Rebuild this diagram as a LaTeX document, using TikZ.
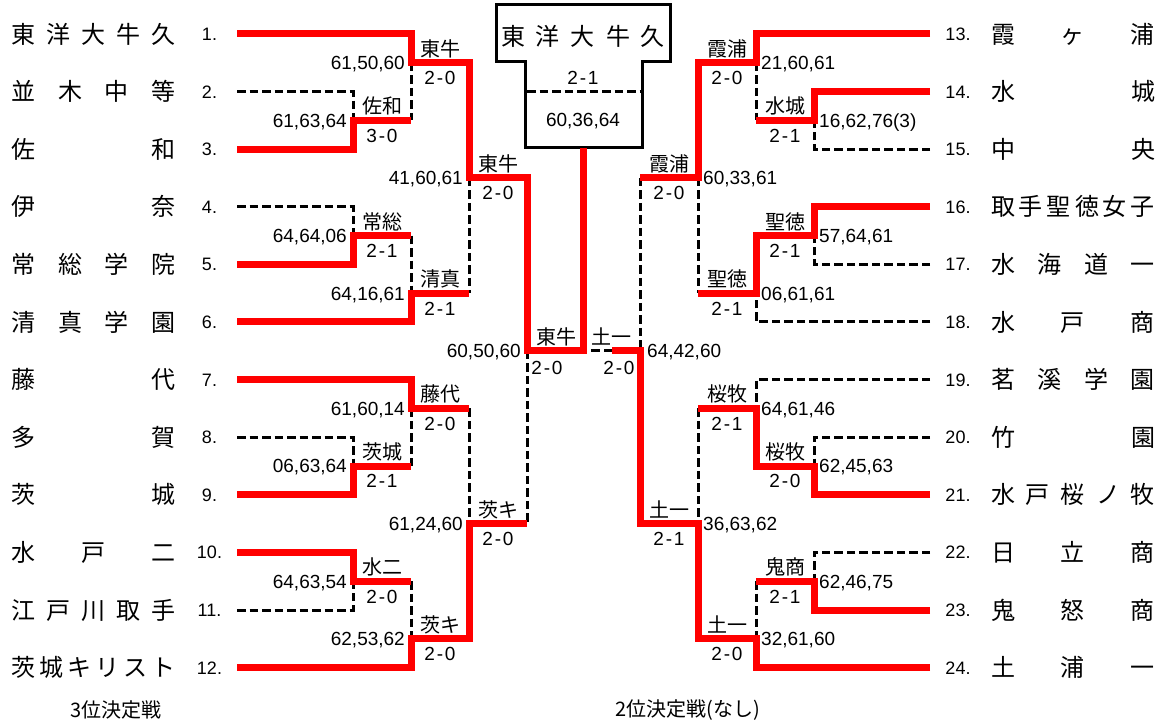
\documentclass[tikz,border=0pt]{standalone}
\usepackage{fontspec}
\setmainfont{Liberation Sans}
\newfontfamily\jp{Noto Sans CJK JP}
\newcommand{\scorepair}[2]{#1\kern1.8pt-\kern1.8pt#2}

\begin{document}
\begin{tikzpicture}[x=1pt,y=-1pt]

\tikzstyle{winline}=[draw=red, line width=7pt, line join=miter]
\tikzstyle{loseline}=[draw, line width=3pt, dash pattern=on 8.5pt off 4pt]
\tikzstyle{champbox}=[draw, line width=3pt, line join=miter]
\tikzstyle{team}=[inner sep=0pt, font=\jp\fontsize{24}{24}\selectfont]
\tikzstyle{seed}=[inner sep=0pt, text height=13pt, text depth=0pt, font=\fontsize{18}{18}\selectfont]
\tikzstyle{scoretext}=[inner sep=0pt, text height=13.7pt, text depth=0pt, font=\fontsize{19}{19}\selectfont]
\tikzstyle{winner}=[inner sep=0pt, font=\jp\fontsize{20}{20}\selectfont]
\tikzstyle{caption}=[inner sep=0pt, font=\jp\fontsize{20}{20}\selectfont]
\tikzstyle{lname}=[winner, xshift=29pt, yshift=14pt]
\tikzstyle{lscore}=[scoretext, xshift=29pt, yshift=-15pt]
\tikzstyle{lsets}=[scoretext, anchor=east, xshift=-6pt]
\tikzstyle{rname}=[winner, xshift=-29pt, yshift=14pt]
\tikzstyle{rscore}=[scoretext, xshift=-29pt, yshift=-15pt]
\tikzstyle{rsets}=[scoretext, anchor=west, xshift=5pt]

\path[fill=white, use as bounding box] (0,0) rectangle (1163,722);

% line ends and seed numbers
\foreach \i in {1,...,12} {
  \coordinate (L\i) at (237,{34+57.6*(\i-1)});
  \node[seed] (n\i) at (209.5,{34+57.6*(\i-1)}) {\i.};
}
\foreach \i in {13,...,24} {
  \coordinate (R\i) at (930,{34+57.6*(\i-13)});
  \node[seed] (n\i) at (958,{34+57.6*(\i-13)}) {\i.};
}

% left half
\coordinate (a1) at (411,62.8);
\coordinate (a23) at (353,120.4);
\coordinate (qa) at (469,178);
\coordinate (a45) at (353,235.6);
\coordinate (a6) at (411,293.2);
\coordinate (sl) at (527,350.8);
\coordinate (a7) at (411,408.4);
\coordinate (a89) at (353,466);
\coordinate (qb) at (469,523.6);
\coordinate (a1011) at (353,581.2);
\coordinate (a12) at (411,638.8);

% right half
\coordinate (b13) at (756,62.8);
\coordinate (b1415) at (814,120.4);
\coordinate (qc) at (698,178);
\coordinate (b1617) at (814,235.6);
\coordinate (b18) at (756,293.2);
\coordinate (sr) at (640,350.8);
\coordinate (b19) at (756,408.4);
\coordinate (b2021) at (814,466);
\coordinate (qd) at (698,523.6);
\coordinate (b2223) at (814,581.2);
\coordinate (b24) at (756,638.8);

% final
\coordinate (fin) at (583,350.8);
\coordinate (fr) at (612,350.8);
\coordinate (champ) at (583,148);

% team names
\node[team] (t1) at (93.5,34) {\makebox[164pt][s]{東 洋 大 牛 久}};
\node[team] (t2) at (93.5,91.6) {\makebox[164pt][s]{並 木 中 等}};
\node[team] (t3) at (93.5,149.2) {\makebox[164pt][s]{佐 和}};
\node[team] (t4) at (93.5,206.8) {\makebox[164pt][s]{伊 奈}};
\node[team] (t5) at (93.5,264.4) {\makebox[164pt][s]{常 総 学 院}};
\node[team] (t6) at (93.5,322) {\makebox[164pt][s]{清 真 学 園}};
\node[team] (t7) at (93.5,379.6) {\makebox[164pt][s]{藤 代}};
\node[team] (t8) at (93.5,437.2) {\makebox[164pt][s]{多 賀}};
\node[team] (t9) at (93.5,494.8) {\makebox[164pt][s]{茨 城}};
\node[team] (t10) at (93.5,552.4) {\makebox[164pt][s]{水 戸 二}};
\node[team] (t11) at (93.5,610) {\makebox[164pt][s]{江 戸 川 取 手}};
\node[team] (t12) at (93.5,667.6) {\makebox[164pt][s]{茨 城 キ リ ス ト}};
\node[team] (t13) at (1073,34) {\makebox[164pt][s]{霞 ヶ 浦}};
\node[team] (t14) at (1073,91.6) {\makebox[164pt][s]{水 城}};
\node[team] (t15) at (1073,149.2) {\makebox[164pt][s]{中 央}};
\node[team] (t16) at (1073,206.8) {\makebox[164pt][s]{取 手 聖 徳 女 子}};
\node[team] (t17) at (1073,264.4) {\makebox[164pt][s]{水 海 道 一}};
\node[team] (t18) at (1073,322) {\makebox[164pt][s]{水 戸 商}};
\node[team] (t19) at (1073,379.6) {\makebox[164pt][s]{茗 溪 学 園}};
\node[team] (t20) at (1073,437.2) {\makebox[164pt][s]{竹 園}};
\node[team] (t21) at (1073,494.8) {\makebox[164pt][s]{水 戸 桜 ノ 牧}};
\node[team] (t22) at (1073,552.4) {\makebox[164pt][s]{日 立 商}};
\node[team] (t23) at (1073,610) {\makebox[164pt][s]{鬼 怒 商}};
\node[team] (t24) at (1073,667.6) {\makebox[164pt][s]{土 浦 一}};

% champion box
\draw[champbox] (496,5) -- (670,5) -- (670,62) -- (642,62) -- (642,148) -- (525,148) -- (525,62) -- (496,62) -- cycle;
\path[loseline] (527,92) -- (640,92);
\node[team] (champion) at (583,36) {\makebox[164pt][s]{東 洋 大 牛 久}};
\node[scoretext] (finalscore) at (583,78) {\scorepair{2}{1}};
\node[scoretext] (finalsets) at (583,120) {60,36,64};

% lost matches
\path[loseline] (L2) -| (a23);
\path[loseline] (a1) -- (a1 |- a23);
\path[loseline] (L4) -| (a45);
\path[loseline] (a6 |- a45) -- (a6);
\path[loseline] (qa) -- (qa |- a6);
\path[loseline] (L8) -| (a89);
\path[loseline] (a7) -- (a7 |- a89);
\path[loseline] (qb |- a7) -- (qb);
\path[loseline] (L11) -| (a1011);
\path[loseline] (a12 |- a1011) -- (a12);
\path[loseline] (sl) -- (sl |- qb);
\path[loseline] (fr) -- (fin);
\path[loseline] (R15) -| (b1415);
\path[loseline] (b13) -- (b13 |- b1415);
\path[loseline] (R17) -| (b1617);
\path[loseline] (R18) -| (b18);
\path[loseline] (qc) -- (qc |- b18);
\path[loseline] (sr |- qc) -- (sr);
\path[loseline] (R19) -| (b19);
\path[loseline] (R20) -| (b2021);
\path[loseline] (qd |- b19) -- (qd);
\path[loseline] (R22) -| (b2223);
\path[loseline] (b24 |- b2223) -- (b24);

% won matches
\path[winline] (L1) -| (a1) -- (qa |- a1) -- (qa) -- (sl |- qa) -- (sl) -- (fin) -- (champ);
\path[winline] (L3) -| (a23) -- (a1 |- a23);
\path[winline] (L5) -| (a45) -- (a6 |- a45);
\path[winline] (L6) -| (a6) -- (qa |- a6);
\path[winline] (L7) -| (a7) -- (qb |- a7);
\path[winline] (L9) -| (a89) -- (a7 |- a89);
\path[winline] (L10) -| (a1011) -- (a12 |- a1011);
\path[winline] (L12) -| (a12) -- (qb |- a12) -- (qb) -- (sl |- qb);
\path[winline] (R13) -| (b13) -- (qc |- b13) -- (qc) -- (sr |- qc);
\path[winline] (R14) -| (b1415) -- (b13 |- b1415);
\path[winline] (R16) -| (b1617) -- (b18 |- b1617) -- (b18) -- (qc |- b18);
\path[winline] (R21) -| (b2021) -- (b19 |- b2021) -- (b19) -- (qd |- b19);
\path[winline] (R23) -| (b2223) -- (b24 |- b2223);
\path[winline] (R24) -| (b24) -- (qd |- b24) -- (qd) -- (sr |- qd) -- (sr) -- (fr);

% left results
\node[lname] (w1) at (a1) {東牛};
\node[lscore] (s1) at (a1) {\scorepair{2}{0}};
\node[lsets] (g1) at (a1) {61,50,60};
\node[lname] (w2) at (a23) {佐和};
\node[lscore] (s2) at (a23) {\scorepair{3}{0}};
\node[lsets] (g2) at (a23) {61,63,64};
\node[lname] (w3) at (a45) {常総};
\node[lscore] (s3) at (a45) {\scorepair{2}{1}};
\node[lsets] (g3) at (a45) {64,64,06};
\node[lname] (w4) at (a6) {清真};
\node[lscore] (s4) at (a6) {\scorepair{2}{1}};
\node[lsets] (g4) at (a6) {64,16,61};
\node[lname] (w5) at (qa) {東牛};
\node[lscore] (s5) at (qa) {\scorepair{2}{0}};
\node[lsets] (g5) at (qa) {41,60,61};
\node[lname] (w6) at (a7) {藤代};
\node[lscore] (s6) at (a7) {\scorepair{2}{0}};
\node[lsets] (g6) at (a7) {61,60,14};
\node[lname] (w7) at (a89) {茨城};
\node[lscore] (s7) at (a89) {\scorepair{2}{1}};
\node[lsets] (g7) at (a89) {06,63,64};
\node[lname] (w8) at (a1011) {水二};
\node[lscore] (s8) at (a1011) {\scorepair{2}{0}};
\node[lsets] (g8) at (a1011) {64,63,54};
\node[lname] (w9) at (a12) {茨キ};
\node[lscore] (s9) at (a12) {\scorepair{2}{0}};
\node[lsets] (g9) at (a12) {62,53,62};
\node[lname] (w10) at (qb) {茨キ};
\node[lscore] (s10) at (qb) {\scorepair{2}{0}};
\node[lsets] (g10) at (qb) {61,24,60};
\node[lname] (w11) at (sl) {東牛};
\node[lscore, xshift=-9pt, yshift=-2pt] (s11) at (sl) {\scorepair{2}{0}};
\node[lsets] (g11) at (sl) {60,50,60};

% right results
\node[rname] (w12) at (b13) {霞浦};
\node[rscore] (s12) at (b13) {\scorepair{2}{0}};
\node[rsets] (g12) at (b13) {21,60,61};
\node[rname] (w13) at (b1415) {水城};
\node[rscore] (s13) at (b1415) {\scorepair{2}{1}};
\node[rsets] (g13) at (b1415) {16,62,76(3)};
\node[rname] (w14) at (b1617) {聖徳};
\node[rscore] (s14) at (b1617) {\scorepair{2}{1}};
\node[rsets] (g14) at (b1617) {57,64,61};
\node[rname] (w15) at (b18) {聖徳};
\node[rscore] (s15) at (b18) {\scorepair{2}{1}};
\node[rsets] (g15) at (b18) {06,61,61};
\node[rname] (w16) at (qc) {霞浦};
\node[rscore] (s16) at (qc) {\scorepair{2}{0}};
\node[rsets] (g16) at (qc) {60,33,61};
\node[rname] (w17) at (b19) {桜牧};
\node[rscore] (s17) at (b19) {\scorepair{2}{1}};
\node[rsets] (g17) at (b19) {64,61,46};
\node[rname] (w18) at (b2021) {桜牧};
\node[rscore] (s18) at (b2021) {\scorepair{2}{0}};
\node[rsets] (g18) at (b2021) {62,45,63};
\node[rname] (w19) at (b2223) {鬼商};
\node[rscore] (s19) at (b2223) {\scorepair{2}{1}};
\node[rsets] (g19) at (b2223) {62,46,75};
\node[rname] (w20) at (b24) {土一};
\node[rscore] (s20) at (b24) {\scorepair{2}{0}};
\node[rsets] (g20) at (b24) {32,61,60};
\node[rname] (w21) at (qd) {土一};
\node[rscore] (s21) at (qd) {\scorepair{2}{1}};
\node[rsets] (g21) at (qd) {36,63,62};
\node[rname] (w22) at (sr) {土一};
\node[rscore, xshift=8pt, yshift=-2pt] (s22) at (sr) {\scorepair{2}{0}};
\node[rsets, xshift=2pt] (g22) at (sr) {64,42,60};

% play-off notes
\node[caption] (third) at (116,710) {3位決定戦};
\node[caption] (second) at (688,710) {2位決定戦(なし)};

\end{tikzpicture}
\end{document}
